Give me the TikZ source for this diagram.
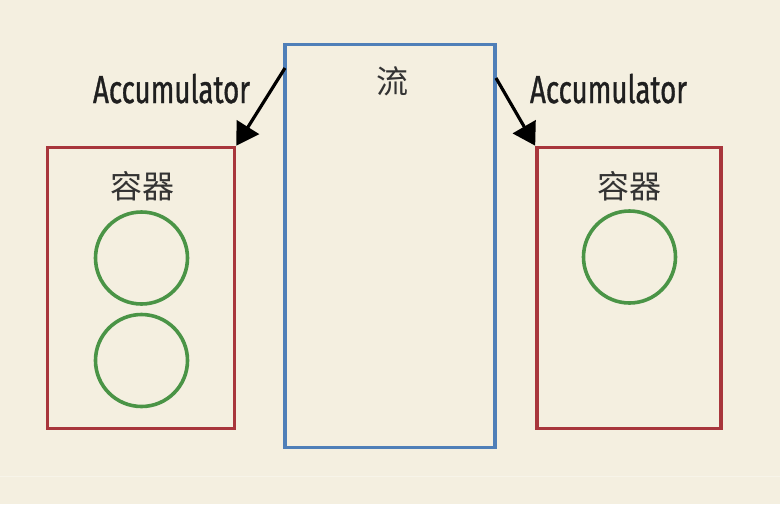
\documentclass[tikz,border=0pt]{standalone}
\usepackage{fontspec}
\setmainfont{Fira Sans}
\newfontfamily\accfont[FakeBold=1.2]{Fira Sans}
\newfontfamily\cjk{Noto Sans CJK SC}
\usetikzlibrary{arrows.meta}
\definecolor{bgc}{HTML}{F4EFE0}
\definecolor{redc}{HTML}{A8363C}
\definecolor{bluec}{HTML}{4F7FB8}
\definecolor{greenc}{HTML}{4A9446}
\tikzset{
  container/.style={draw=redc, line width=3.6pt},
  streambox/.style={draw=bluec, line width=3.6pt},
  item/.style={draw=greenc, line width=3.6pt, circle, minimum size=92pt, inner sep=0pt},
  cjklabel/.style={font=\cjk\fontsize{32}{36}\selectfont, text=black!80, inner sep=0pt},
  acclabel/.style={font=\accfont\fontsize{39}{44}\selectfont, text=black!88, inner sep=0pt, anchor=base},
  accarrow/.style={-{Triangle[length=22pt,width=26pt]}, line width=3.2pt, black}
}
\begin{document}
\begin{tikzpicture}[x=1pt,y=-1pt]
\fill[bgc] (0,0) rectangle (780,504);
\useasboundingbox (0,0) rectangle (780,504);
\draw[white!30!bgc, line width=0.6pt] (0,476) -- (780,476);
% boxes
\node[container, minimum width=187pt, minimum height=281pt, inner sep=0pt] (left) at (141,288) {};
\node[streambox, minimum width=210pt, minimum height=403pt, inner sep=0pt] (stream) at (390,246) {};
\node[container, minimum width=184pt, minimum height=281pt, inner sep=0pt] (right) at (629,288) {};
% labels
\node[cjklabel] (streamlbl) at (392,81) {流};
\node[cjklabel] (leftlbl) at (142,186) {容器};
\node[cjklabel] (rightlbl) at (629,186) {容器};
% circles
\node[item] (c1) at (141.5,258) {};
\node[item] (c2) at (141.5,360.5) {};
\node[item] (c3) at (629.5,257) {};
% accumulator labels
\node[acclabel] (accl) at (171.5,103) {\scalebox{0.71}[1]{Accumulator}};
\node[acclabel] (accr) at (608.5,103) {\scalebox{0.71}[1]{Accumulator}};
% arrows
\coordinate (la) at (285,68);
\coordinate (ra) at (496,78);
\draw[accarrow] (la) -- (left.north east);
\draw[accarrow] (ra) -- (right.north west);
\end{tikzpicture}
\end{document}
